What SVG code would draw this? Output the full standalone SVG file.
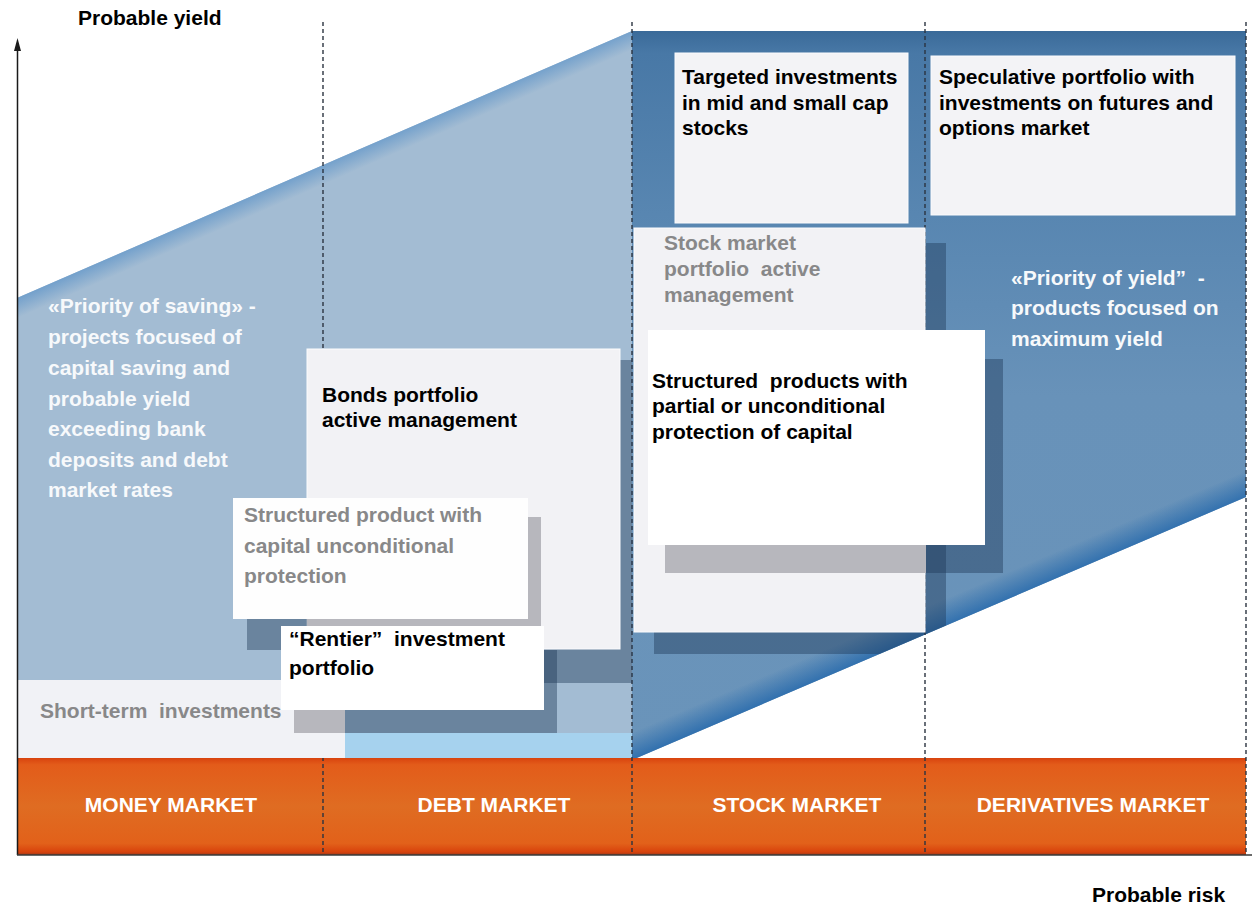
<svg xmlns="http://www.w3.org/2000/svg" width="1252" height="905" viewBox="0 0 1252 905">
<style>
.t{font-family:"Liberation Sans",Arial,sans-serif;font-weight:bold;font-size:21px}
.k{fill:#000}
.g{fill:#888889}
.w{fill:#f7f9fb}
.box{stroke:#fbfbfd;stroke-width:1}
.sh{fill:#1c3656;opacity:0.42}
.shg{fill:#b7b7bd}
.dash{stroke:#2b3440;stroke-width:1.4;stroke-dasharray:4 3;fill:none}
.mk{fill:#ffffff;text-anchor:middle}
</style>
<defs>
<linearGradient id="darkV" gradientUnits="userSpaceOnUse" x1="0" y1="31" x2="0" y2="760">
<stop offset="0" stop-color="#3a6a99"/>
<stop offset="0.03" stop-color="#4878a6"/>
<stop offset="0.25" stop-color="#5886b1"/>
<stop offset="0.5" stop-color="#6892b9"/>
<stop offset="1" stop-color="#6a94ba"/>
</linearGradient>
<linearGradient id="darkEdge" gradientUnits="userSpaceOnUse" x1="939.5" y1="628.5" x2="929.7" y2="605.5">
<stop offset="0" stop-color="#2f6fae" stop-opacity="0.95"/>
<stop offset="1" stop-color="#2f6fae" stop-opacity="0"/>
</linearGradient>
<linearGradient id="lightEdge" gradientUnits="userSpaceOnUse" x1="324.5" y1="164.5" x2="331.7" y2="181">
<stop offset="0" stop-color="#6f9ecb" stop-opacity="0.9"/>
<stop offset="1" stop-color="#6f9ecb" stop-opacity="0"/>
</linearGradient>
<linearGradient id="orange" gradientUnits="userSpaceOnUse" x1="0" y1="758" x2="0" y2="855">
<stop offset="0" stop-color="#d8430e"/>
<stop offset="0.07" stop-color="#e35c1a"/>
<stop offset="0.5" stop-color="#df6c22"/>
<stop offset="0.88" stop-color="#e2611a"/>
<stop offset="0.97" stop-color="#d8420c"/>
<stop offset="1" stop-color="#9a3a1c"/>
</linearGradient>
<clipPath id="darkClip"><polygon points="632,31 1246,31 1246,497 632,760"/></clipPath>
</defs>

<rect x="0" y="0" width="1252" height="905" fill="#ffffff"/>

<g id="background">
<polygon points="17,298 632,31 632,760 17,760" fill="#a3bcd3"/>
<polygon points="17,298 632,31 632,760 17,760" fill="url(#lightEdge)"/>
<polygon points="632,31 1246,31 1246,497 632,760" fill="url(#darkV)"/>
<polygon points="632,31 1246,31 1246,497 632,760" fill="url(#darkEdge)"/>
<rect x="345" y="733" width="287" height="26" fill="#a6d2ee"/>
<rect x="17" y="758" width="1229" height="97" fill="url(#orange)"/>
</g>

<g id="connectors">
<line class="dash" x1="323" y1="22" x2="323" y2="855"/>
<line class="dash" x1="632" y1="22" x2="632" y2="855"/>
<line class="dash" x1="925" y1="22" x2="925" y2="855"/>
<line class="dash" x1="1246" y1="22" x2="1246" y2="855"/>
</g>

<g id="targeted">
<rect class="box" x="675" y="53" width="233" height="170" fill="#f3f3f6"/>
<text class="t k" x="682" y="84">Targeted investments</text>
<text class="t k" x="682" y="110">in mid and small cap</text>
<text class="t k" x="682" y="135">stocks</text>
</g>

<g id="speculative">
<rect class="box" x="931" y="56" width="304" height="159" fill="#f3f3f6"/>
<text class="t k" x="939" y="84">Speculative portfolio with</text>
<text class="t k" x="939" y="110">investments on futures and</text>
<text class="t k" x="939" y="135">options market</text>
</g>

<g id="stock-active">
<rect class="sh" x="654" y="243" width="292" height="411" clip-path="url(#darkClip)"/>
<rect class="box" x="634" y="228" width="291" height="404" fill="#f2f2f5"/>
<text class="t g" x="664" y="250">Stock market</text>
<text class="t g" x="664" y="276" xml:space="preserve">portfolio  active</text>
<text class="t g" x="664" y="302">management</text>
</g>

<g id="structured-partial">
<rect class="sh" x="926" y="359" width="77" height="214"/>
<rect class="shg" x="665" y="545" width="261" height="28"/>
<rect x="648" y="330" width="337" height="215" fill="#ffffff"/>
<text class="t k" x="652" y="388" xml:space="preserve">Structured  products with</text>
<text class="t k" x="652" y="413">partial or unconditional</text>
<text class="t k" x="652" y="439">protection of capital</text>
</g>

<g id="bonds">
<rect class="sh" x="330" y="360" width="302" height="323"/>
<rect class="box" x="307" y="349" width="313" height="300" fill="#f2f2f5"/>
<text class="t k" x="322" y="402">Bonds portfolio</text>
<text class="t k" x="322" y="427">active management</text>
</g>

<g id="structured-unconditional">
<rect class="sh" x="247" y="619" width="60" height="31"/>
<rect class="shg" x="307" y="517" width="234" height="109"/>
<rect x="233" y="498" width="295" height="121" fill="#fefefe"/>
<text class="t g" x="244" y="522">Structured product with</text>
<text class="t g" x="244" y="553">capital unconditional</text>
<text class="t g" x="244" y="583">protection</text>
</g>

<g id="short-term">
<rect x="17" y="680" width="328" height="78" fill="#f1f2f6"/>
<text class="t g" x="40" y="718" xml:space="preserve">Short-term  investments</text>
</g>

<g id="rentier">
<rect class="sh" x="345" y="650" width="212" height="83"/>
<rect class="shg" x="294" y="700" width="51" height="33"/>
<rect x="281" y="626" width="263" height="84" fill="#ffffff"/>
<text class="t k" x="289" y="646" xml:space="preserve">“Rentier”  investment</text>
<text class="t k" x="289" y="675">portfolio</text>
</g>

<g id="priority-saving">
<text class="t w" x="48" y="313">«Priority of saving» -</text>
<text class="t w" x="48" y="344">projects focused of</text>
<text class="t w" x="48" y="375">capital saving and</text>
<text class="t w" x="48" y="406">probable yield</text>
<text class="t w" x="48" y="436">exceeding bank</text>
<text class="t w" x="48" y="467">deposits and debt</text>
<text class="t w" x="48" y="497">market rates</text>
</g>

<g id="priority-yield">
<text class="t w" x="1011" y="285" xml:space="preserve">«Priority of yield”  -</text>
<text class="t w" x="1011" y="315">products focused on</text>
<text class="t w" x="1011" y="346">maximum yield</text>
</g>

<g id="markets">
<text class="t mk" x="171" y="812">MONEY MARKET</text>
<text class="t mk" x="494" y="812">DEBT MARKET</text>
<text class="t mk" x="797" y="812">STOCK MARKET</text>
<text class="t mk" x="1093" y="812">DERIVATIVES MARKET</text>
</g>

<g id="axes">
<line x1="17.5" y1="48" x2="17.5" y2="855" stroke="#1a1a1a" stroke-width="1.5"/>
<polygon points="17.5,38 14,51 21,51" fill="#1a1a1a"/>
<line x1="17" y1="855" x2="1252" y2="855" stroke="#3a3a3a" stroke-width="1.5"/>
<text class="t k" x="78" y="25">Probable yield</text>
<text class="t k" x="1092" y="902">Probable risk</text>
</g>
</svg>
